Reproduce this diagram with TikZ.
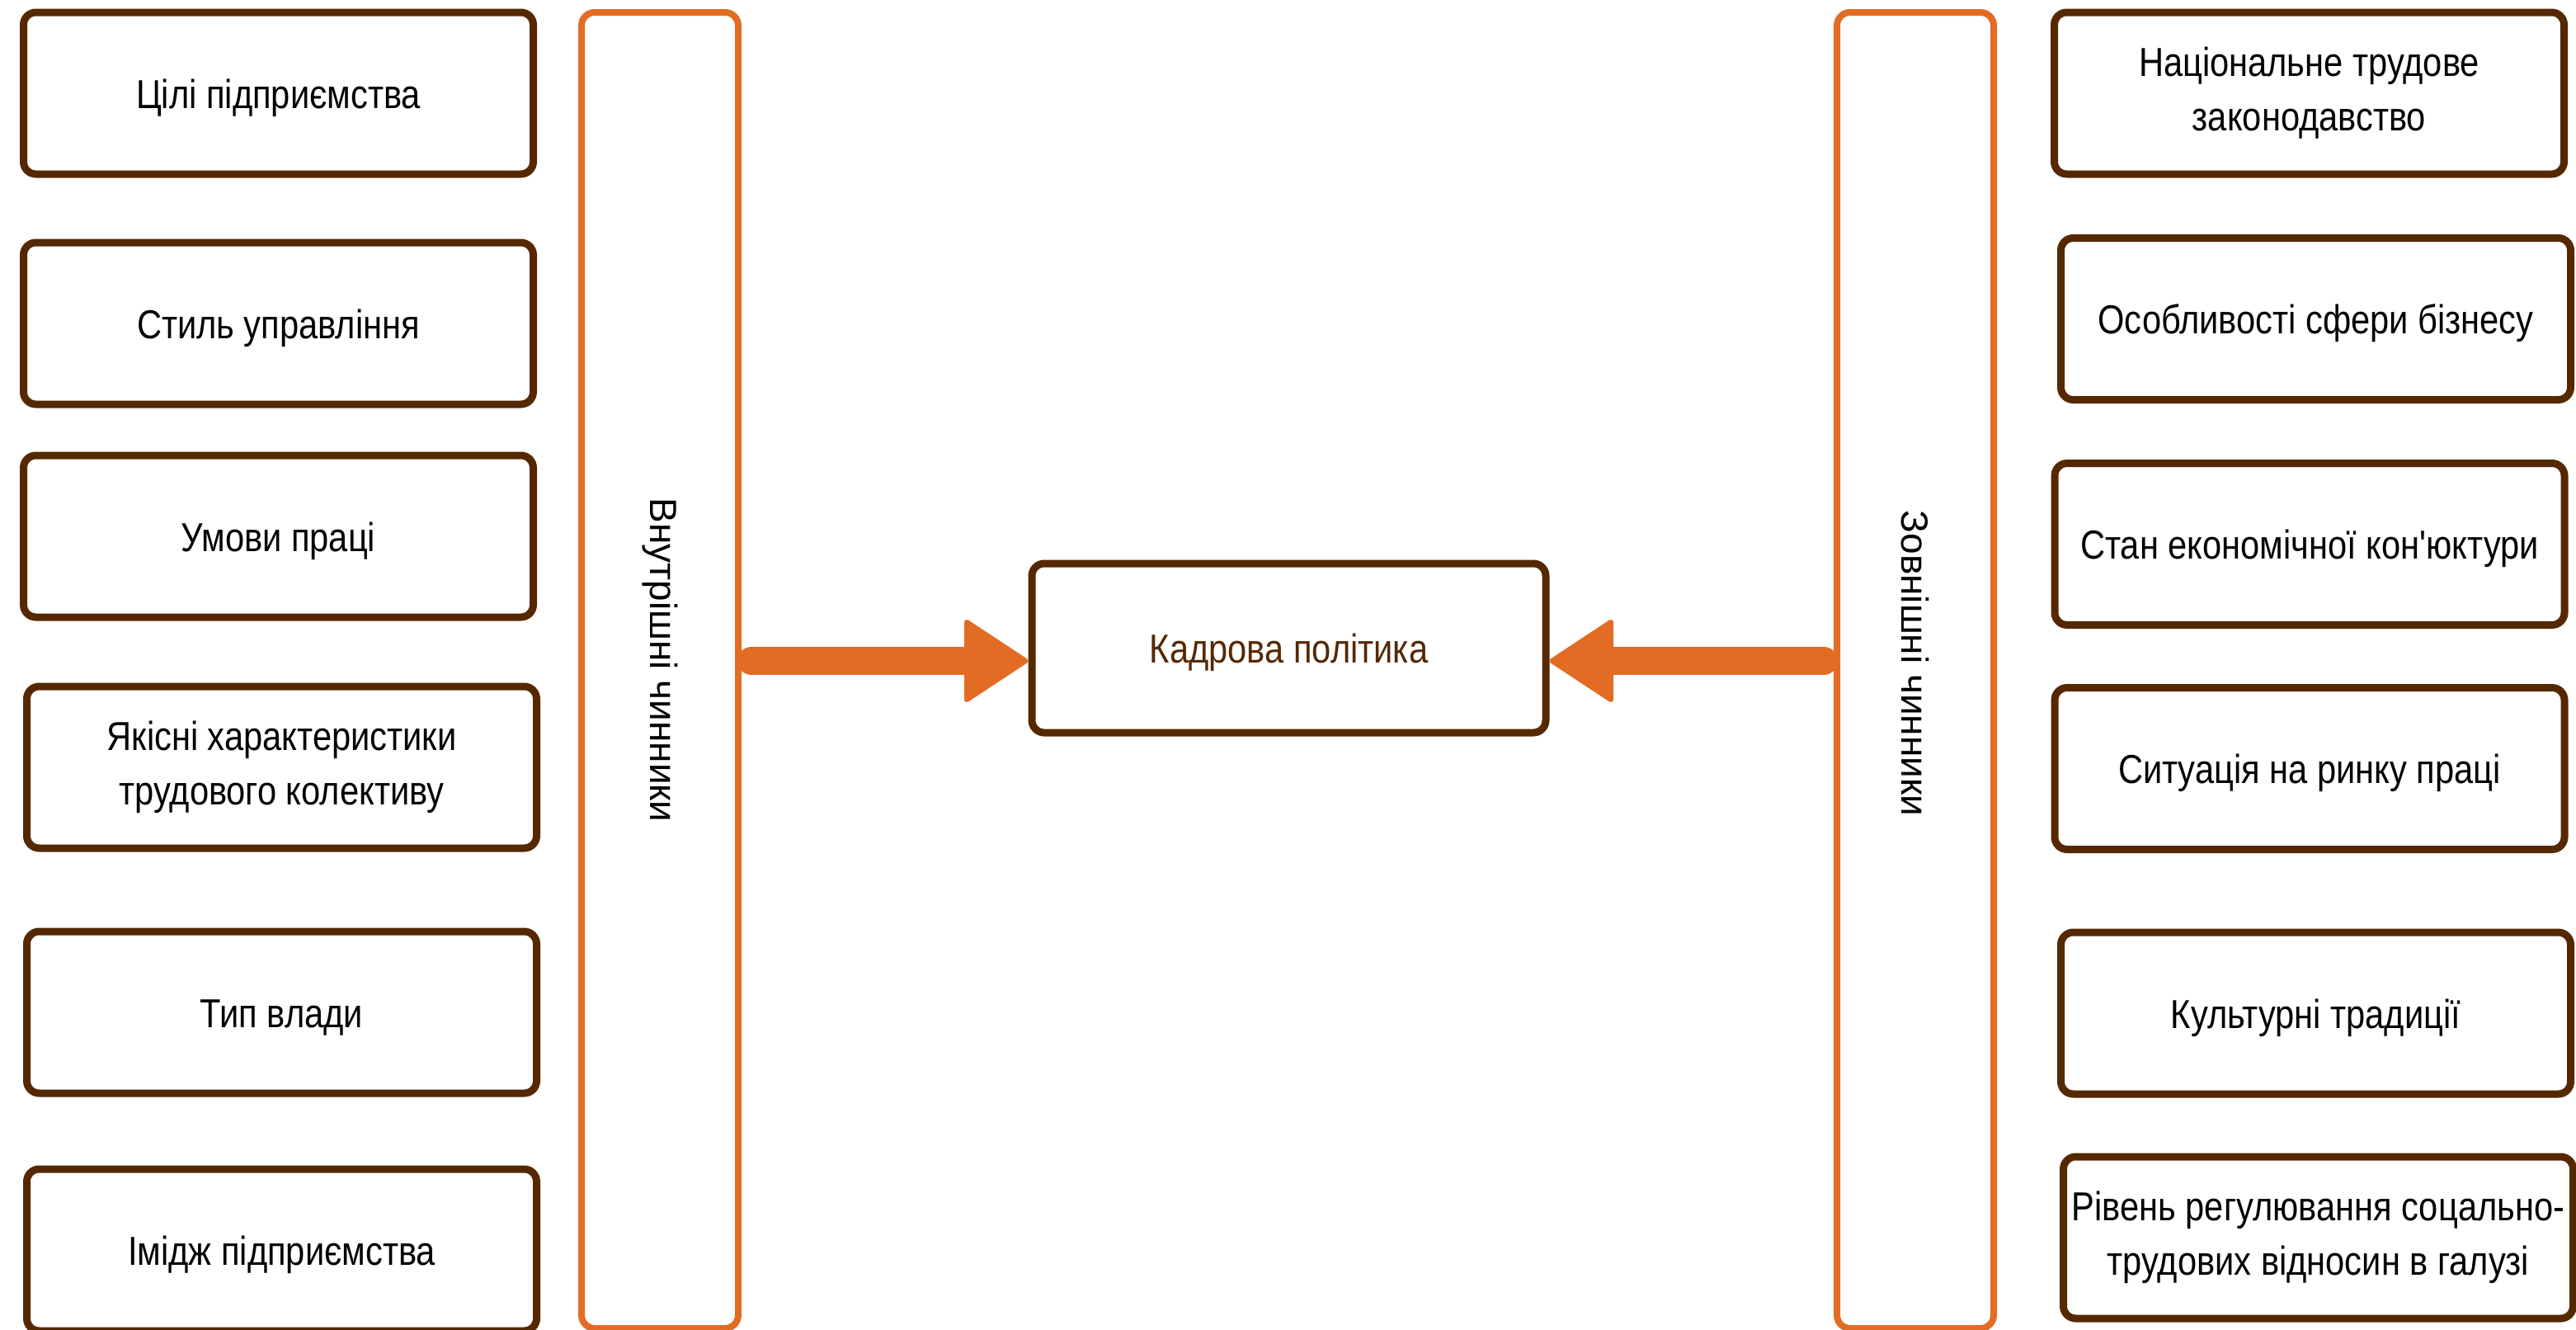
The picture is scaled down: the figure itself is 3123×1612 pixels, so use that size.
\documentclass[tikz,border=0pt]{standalone}
\usepackage{fontspec}
\setmainfont{Liberation Sans}[FakeStretch=0.85,Ligatures=TeXOff]
\newfontfamily\colfont{Liberation Sans}[Ligatures=TeXOff]
\usetikzlibrary{arrows.meta}
\definecolor{brn}{HTML}{552800}
\definecolor{org}{HTML}{E36C24}
\begin{document}
\begin{tikzpicture}[x=0.5pt,y=-0.5pt,
  factor/.style={draw=brn,line width=4.5pt,rounded corners=7.5pt,fill=white,
    minimum width=309pt,minimum height=98pt,inner sep=0pt,align=center,
    font=\fontsize{24.5}{33}\selectfont,text=black},
  one/.style={text height=23pt,text depth=5pt},
  column/.style={draw=org,line width=4pt,rounded corners=8pt,
    minimum width=95pt,minimum height=797.5pt,inner sep=0pt},
  coltext/.style={rotate=-90,font=\colfont\fontsize{23}{33}\selectfont,text=black},
  bigarrow/.style={draw=org,line width=17pt,line cap=round,
    -{Triangle[length=40pt,width=52pt,round,line width=3pt]}}
]
\useasboundingbox (0,0) rectangle (3123,1612);
% left factors
\node[factor,one] (l1) at (337.5,113) {Цілі підприємства};
\node[factor,one] (l2) at (337.5,392) {Стиль управління};
\node[factor,one] (l3) at (337.5,650) {Умови праці};
\node[factor] (l4) at (341.5,930) {Якісні характеристики\\трудового колективу};
\node[factor,one] (l5) at (341.5,1227) {Тип влади};
\node[factor,one] (l6) at (341.5,1515) {Імідж підприємства};
% right factors
\node[factor] (r1) at (2799.5,113) {Національне трудове\\законодавство};
\node[factor,one] (r2) at (2807.5,386.5) {Особливості сфери бізнесу};
\node[factor,one] (r3) at (2800,659.5) {Стан економічної кон'юктури};
\node[factor,one] (r4) at (2800,931.5) {Ситуація на ринку праці};
\node[factor,one] (r5) at (2807.5,1228) {Культурні традиції};
\node[factor] (r6) at (2810.5,1500) {Рівень регулювання соцально-\\трудових відносин в галузі};
% columns
\node[column] (inL) at (800,812.5) {};
\node[coltext] (inLt) at (800,800) {Внутрішні чинники};
\node[column] (exR) at (2322,812.5) {};
\node[coltext] (exRt) at (2322,804) {Зовнішні чинники};
% centre
\node[factor,one,minimum width=311.5pt,minimum height=102.5pt,text=brn] (kp) at (1562.5,785.5) {Кадрова політика};
\coordinate (ay) at (0,801);
\draw[bigarrow,shorten <=6pt] (inL.east |- ay) -- (kp.west |- ay);
\draw[bigarrow,shorten <=6pt] (exR.west |- ay) -- (kp.east |- ay);
\end{tikzpicture}
\end{document}
